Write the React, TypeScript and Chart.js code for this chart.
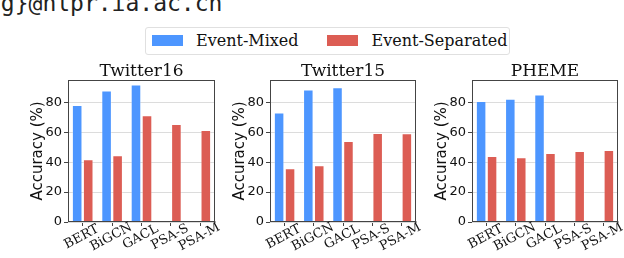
import React, { useEffect, useRef } from "react";
import { Chart, registerables } from "chart.js";
Chart.register(...registerables);

const categories = ["BERT", "BiGCN", "GACL", "PSA-S", "PSA-M"];
const seriesNames = ["Event-Mixed", "Event-Separated"];
const twitter16Mixed = [78.2, 88, 92, null, null];
const twitter16Separated = [42, 44.7, 71.5, 65.5, 61.5];
const twitter15Mixed = [73.3, 88.7, 90.2, null, null];
const twitter15Separated = [36, 38, 54.2, 59.5, 59.3];
const phemeMixed = [80.9, 82.4, 85.3, null, null];
const phemeSeparated = [44.2, 43.3, 46.2, 47.5, 48.2];
const yTicks = [0, 20, 40, 60, 80];
const yMax = 95;
const panelTitles = ["Twitter16", "Twitter15", "PHEME"];
const yLabel = "Accuracy (%)";
const topText = "ng}@nlpr.ia.ac.cn";

const BLUE = "#4d96ff";
const RED = "#dc5d54";
const SERIF = '"DejaVu Serif", serif';
const SANS = '"DejaVu Sans", sans-serif';

const decorPlugin = {
  id: "decor",
  afterDraw(chart: any, _args: any, opts: any) {
    const { ctx, chartArea } = chart;
    const { left, right, top, bottom } = chartArea;
    ctx.save();
    ctx.strokeStyle = "#444";
    ctx.lineWidth = 1;
    const l = Math.round(left) + 0.5;
    const r = Math.round(right) - 0.5;
    const t = Math.round(top) + 0.5;
    const b = Math.round(bottom) - 0.5;
    ctx.strokeRect(l, t, r - l, b - t);
    ctx.fillStyle = "#111";
    ctx.font = `17px ${SERIF}`;
    ctx.textAlign = "center";
    ctx.textBaseline = "alphabetic";
    ctx.fillText(opts.title, (left + right) / 2, top - 4);
    ctx.save();
    ctx.font = `15px ${SANS}`;
    ctx.translate(left - 26, (top + bottom) / 2);
    ctx.rotate(-Math.PI / 2);
    ctx.textAlign = "center";
    ctx.textBaseline = "alphabetic";
    ctx.fillText(opts.yLabel, 0, 0);
    ctx.restore();
    const xs = chart.scales.x;
    ctx.font = `13px ${SERIF}`;
    categories.forEach((c, i) => {
      const x = xs.getPixelForValue(i);
      ctx.save();
      ctx.translate(x - 1, bottom + 15);
      ctx.rotate((-28 * Math.PI) / 180);
      ctx.textAlign = "center";
      ctx.textBaseline = "middle";
      ctx.fillText(c, 0, 0);
      ctx.restore();
    });
    ctx.restore();
  },
};

type PanelProps = {
  title: string;
  mixed: (number | null)[];
  separated: (number | null)[];
  canvasLeft: number;
  canvasWidth: number;
  plotLeft: number;
  plotRight: number;
};

function Panel({ title, mixed, separated, canvasLeft, canvasWidth, plotLeft, plotRight }: PanelProps) {
  const ref = useRef<HTMLCanvasElement>(null);
  useEffect(() => {
    if (!ref.current) return;
    const yWidth = plotLeft - canvasLeft;
    const padRight = canvasLeft + canvasWidth - plotRight;
    const chart = new Chart(ref.current, {
      type: "bar",
      data: {
        labels: categories,
        datasets: [
          {
            label: seriesNames[0],
            data: mixed,
            backgroundColor: BLUE,
            borderColor: "rgba(255,255,255,0.3)",
            borderWidth: 1,
            categoryPercentage: 0.75,
            barPercentage: 0.96,
          },
          {
            label: seriesNames[1],
            data: separated,
            backgroundColor: RED,
            borderColor: "rgba(255,255,255,0.3)",
            borderWidth: 1,
            categoryPercentage: 0.75,
            barPercentage: 0.96,
          },
        ],
      },
      options: {
        responsive: false,
        animation: false,
        devicePixelRatio: 1,
        layout: { padding: { left: 0, top: 25, right: padRight, bottom: 0 } },
        plugins: {
          legend: { display: false },
          tooltip: { enabled: false },
          decor: { title, yLabel },
        } as any,
        scales: {
          x: {
            offset: true,
            grid: { offset: false, drawOnChartArea: false, tickLength: 4, tickColor: "#444" },
            border: { display: false },
            ticks: { display: false },
            afterFit: (s: any) => {
              s.height = 36;
            },
          },
          y: {
            min: 0,
            max: yMax,
            grid: { color: "#dcdcdc", tickLength: 4, tickColor: "#444" },
            border: { display: false },
            ticks: {
              padding: 2,
              color: "#111",
              font: { family: "DejaVu Sans", size: 13 },
            },
            afterBuildTicks: (s: any) => {
              s.ticks = yTicks.map((v) => ({ value: v }));
            },
            afterFit: (s: any) => {
              s.width = yWidth;
            },
          },
        },
      },
      plugins: [decorPlugin],
    });
    return () => chart.destroy();
  }, []);
  return (
    <canvas
      ref={ref}
      width={canvasWidth}
      height={203}
      style={{ position: "absolute", left: canvasLeft, top: 55, width: canvasWidth, height: 203 }}
    />
  );
}

export default function App() {
  return (
    <div
      style={{
        position: "absolute",
        left: 0,
        top: 0,
        width: 624,
        height: 258,
        overflow: "hidden",
        background: "#fff",
      }}
    >
      <div
        style={{
          position: "absolute",
          left: -13,
          top: -8.5,
          font: '23px "DejaVu Sans Mono", monospace',
          lineHeight: "23px",
          color: "#222",
          whiteSpace: "nowrap",
        }}
      >
        {topText}
      </div>
      <div
        style={{
          position: "absolute",
          left: 145,
          top: 27,
          width: 363,
          height: 26,
          border: "1px solid #e0e0e0",
          borderRadius: 3,
        }}
      />
      <div style={{ position: "absolute", left: 152, top: 35, width: 31, height: 11, background: BLUE }} />
      <div
        style={{
          position: "absolute",
          left: 196,
          top: 32.5,
          font: `16px ${SERIF}`,
          lineHeight: "16px",
          color: "#111",
          whiteSpace: "nowrap",
        }}
      >
        {seriesNames[0]}
      </div>
      <div style={{ position: "absolute", left: 327, top: 35, width: 31, height: 11, background: RED }} />
      <div
        style={{
          position: "absolute",
          left: 371.5,
          top: 32.5,
          font: `16px ${SERIF}`,
          lineHeight: "16px",
          color: "#111",
          whiteSpace: "nowrap",
        }}
      >
        {seriesNames[1]}
      </div>
      <Panel title={panelTitles[0]} mixed={twitter16Mixed} separated={twitter16Separated} canvasLeft={0} canvasWidth={240} plotLeft={68} plotRight={215} />
      <Panel title={panelTitles[1]} mixed={twitter15Mixed} separated={twitter15Separated} canvasLeft={205} canvasWidth={240} plotLeft={270} plotRight={416} />
      <Panel title={panelTitles[2]} mixed={phemeMixed} separated={phemeSeparated} canvasLeft={405} canvasWidth={219} plotLeft={472} plotRight={618} />
    </div>
  );
}
